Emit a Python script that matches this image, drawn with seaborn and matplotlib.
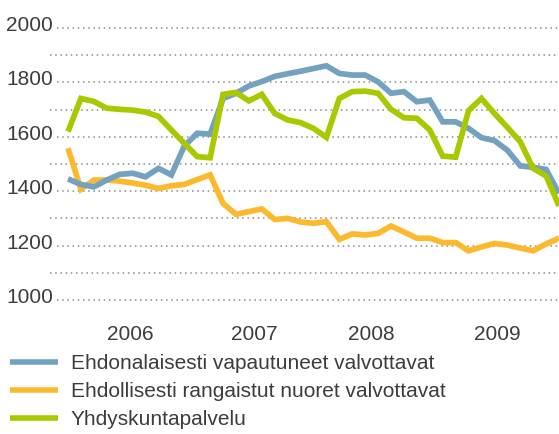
import matplotlib
matplotlib.use("Agg")
import matplotlib.pyplot as plt
import matplotlib.transforms as mtransforms
import seaborn as sns
import pandas as pd
import numpy as np

# ---- data ----
series_names = [
    "Ehdonalaisesti vapautuneet valvottavat",
    "Ehdollisesti rangaistut nuoret valvottavat",
    "Yhdyskuntapalvelu",
]
blue_vals = [1445, 1425, 1416, 1441, 1462, 1466, 1453, 1484, 1460, 1566,
             1613, 1610, 1741, 1760, 1787, 1803, 1822, 1832, 1841, 1851,
             1861, 1833, 1827, 1827, 1802, 1760, 1766, 1729, 1735, 1655,
             1655, 1631, 1597, 1586, 1551, 1493, 1488, 1480, 1392]
orange_vals = [1558, 1407, 1441, 1441, 1437, 1430, 1422, 1410, 1420, 1425,
               1443, 1460, 1355, 1315, 1325, 1335, 1296, 1300, 1287, 1282,
               1288, 1223, 1243, 1239, 1245, 1272, 1250, 1227, 1227, 1211,
               1211, 1181, 1195, 1208, 1202, 1191, 1181, 1206, 1227]
green_vals = [1619, 1741, 1730, 1705, 1701, 1698, 1691, 1675, 1625, 1576,
              1527, 1523, 1756, 1763, 1732, 1756, 1686, 1662, 1652, 1631,
              1598, 1741, 1766, 1768, 1760, 1701, 1670, 1668, 1625, 1529,
              1525, 1696, 1741, 1686, 1635, 1582, 1484, 1456, 1346]
year_labels = ["2006", "2007", "2008", "2009"]
year_pos = [4.8, 14.4, 23.5, 33.2]
y_labels = [1000, 1200, 1400, 1600, 1800, 2000]
y_grid = [1000, 1100, 1200, 1300, 1400, 1500, 1600, 1700, 1800, 1900, 2000]

colors = ["#72a2c0", "#fdb92e", "#a9c800"]
text_color = "#3d3d3d"

n = len(blue_vals)
df = pd.DataFrame({
    "idx": list(range(n)) * 3,
    "value": blue_vals + orange_vals + green_vals,
    "series": [series_names[0]] * n + [series_names[1]] * n + [series_names[2]] * n,
})

sns.set_style("white")
plt.rcParams["font.family"] = ["Liberation Sans", "DejaVu Sans"]

W, H = 559, 434
fig = plt.figure(figsize=(W / 100, H / 100), dpi=100)
ax = fig.add_axes([50 / W, (H - 300) / H, 509 / W, 272 / H])

sns.lineplot(data=df, x="idx", y="value", hue="series", hue_order=series_names,
             palette=colors, linewidth=4.1, ax=ax, legend=True, sort=False)

for line, z in zip(ax.get_lines()[:3], [3, 2, 4]):
    line.set_zorder(z)
    line.set_solid_joinstyle("miter")
    line.set_solid_capstyle("butt")

ax.set_xlim(-18 / 12.92, 38)
ax.set_ylim(1000, 2000)
for s in ax.spines.values():
    s.set_visible(False)
ax.set_xticks([])
ax.set_yticks([])
ax.set_xlabel("")
ax.set_ylabel("")

# dotted gridlines
for v in y_grid:
    xmin = (57 - 50) / 509 if v in y_labels else 0.0
    ax.axhline(v, xmin=xmin, xmax=1, color="#8a8a8a", linewidth=1.1,
               linestyle=(0, (1, 2.4)), zorder=1, clip_on=False)

fs = 15
# y labels
off = mtransforms.offset_copy(ax.transData, fig=fig, x=0, y=-3, units="dots")
blend = mtransforms.blended_transform_factory(ax.transAxes, off)
for v in y_labels:
    ax.text(3 / 509, v, str(v), transform=blend, ha="right", va="baseline",
            fontsize=fs, color=text_color)

# year labels
bl = mtransforms.blended_transform_factory(ax.transData, fig.transFigure)
for p, lab in zip(year_pos, year_labels):
    ax.text(p, (H - 340) / H, lab, transform=bl, ha="center", va="baseline",
            fontsize=fs, color=text_color, clip_on=False)

# legend
handles, labels = ax.get_legend_handles_labels()
ax.get_legend().remove()
leg = fig.legend(handles, labels, loc="upper left",
                 bbox_to_anchor=(10 / W, 1 - 354 / H), frameon=False,
                 fontsize=fs, handlelength=2.3, handletextpad=0.62,
                 labelspacing=0.44, borderpad=0, borderaxespad=0)
for t in leg.get_texts():
    t.set_color(text_color)
for l in leg.get_lines():
    l.set_linewidth(4)
    l.set_solid_capstyle("butt")

fig.savefig("out.png", dpi=100)
